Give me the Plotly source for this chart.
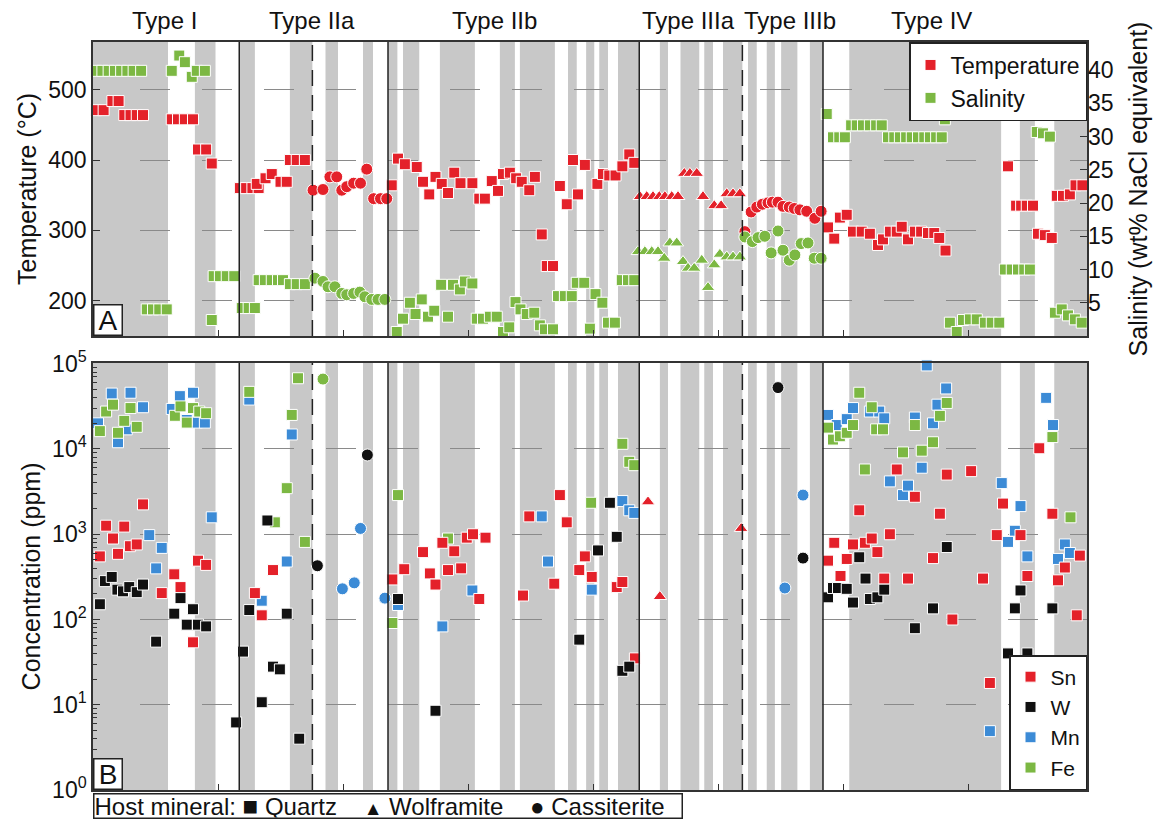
import plotly.graph_objects as go

RED = "#e4212a"; GREEN = "#7cb843"; BLUE = "#3c8bd6"; BLACK = "#111111"; GRAY = "#c8c8c8"
FONT = "Liberation Sans, Arial, sans-serif"

# ---------------- layout of samples along x (sample index) ----------------
band_start = [0.0, 16.3, 23.5, 31.5, 37.2, 43.2, 47.2, 49.6, 55.5, 65.1, 68.3, 76.0, 78.9, 81.0,
              84.0, 90.7, 94.0, 97.8, 100.8, 104.8, 107.8, 110.1, 114.7, 121.0, 148.3, 153.8]
band_end = [12.0, 19.6, 25.9, 35.1, 39.2, 44.8, 48.7, 52.2, 61.1, 67.5, 73.9, 77.4, 80.2, 82.4,
            87.4, 92.0, 97.0, 99.2, 103.9, 106.2, 109.1, 112.7, 116.8, 145.3, 150.7, 159.04]
type_bounds = [23.4, 47.2, 87.4, 116.8]
sub_bounds = [35.1, 103.9]
type_names = ["Type I", "Type IIa", "Type IIb", "Type IIIa", "Type IIIb", "Type IV"]
type_label_x = [11.5, 35.0, 64.3, 95.2, 111.5, 134.1]

# ---------------- Panel A: temperature (deg C) ----------------
temp_qtz_x = [0.5, 1.7, 3.1, 4.1, 5.0, 6.0, 7.0, 8.0, 12.6, 13.6, 14.7, 16.0, 16.8, 18.1, 19.0,
              23.5, 24.5, 25.5, 26.5, 26.2, 27.6, 28.6, 30.0, 31.0, 31.5, 32.6, 33.9,
              47.8, 48.8, 49.9, 51.8, 52.8, 53.8, 54.8, 55.8, 56.8, 57.8, 58.8, 60.7, 61.8, 62.7,
              63.8, 64.8, 65.6, 66.7, 67.7, 68.6, 69.8, 70.7, 71.8, 72.6, 73.6, 74.7, 75.8, 76.8,
              77.6, 78.7, 80.7, 81.6, 82.6, 83.6, 84.7, 85.8, 86.6,
              117.6, 118.6, 119.5, 120.6, 121.6, 123.0, 124.3, 125.6, 126.4, 127.5, 128.6, 129.4,
              130.4, 131.5, 132.5, 133.6, 134.6, 135.4, 136.4,
              146.4, 147.7, 148.5, 149.4, 150.4, 151.2, 152.3, 153.4, 154.2, 155.2, 156.3, 157.2, 158.3]
temp_qtz = [471, 471, 484, 484, 464, 464, 464, 464, 458, 458, 458, 458, 415, 415, 395,
            360, 360, 360, 360, 366, 374, 380, 369, 369, 400, 400, 400,
            364, 402, 394, 390, 369, 351, 376, 366, 353, 382, 367, 367, 345, 345,
            370, 356, 380, 382, 374, 369, 357, 376, 294, 249, 249, 363, 337, 400,
            351, 393, 366, 380, 378, 378, 391, 408, 396,
            304, 288, 318, 322, 298, 298, 295, 279, 287, 298, 298, 305,
            287, 298, 298, 296, 296, 289, 271,
            391, 335, 335, 335, 335, 295, 293, 289, 349, 349, 351, 364, 364]
temp_wlf_x = [87.5, 88.6, 89.6, 90.6, 91.5, 92.6, 93.6, 94.6, 95.5, 96.6, 97.6, 99.4, 100.5,
              101.4, 102.4, 103.5]
temp_wlf = [348, 348, 348, 348, 348, 348, 348, 381, 381, 381, 348, 335, 335, 352, 352, 352]
temp_cst_x = [35.2, 36.8, 37.9, 39.0, 39.8, 40.6, 41.7, 42.8, 43.8, 44.9, 46.0, 47.0,
              104.3, 105.3, 106.2, 107.1, 108.0, 108.7, 109.6, 110.4, 111.4, 112.2, 113.1, 114.2,
              115.5, 116.5]
temp_cst = [357, 358, 376, 376, 357, 362, 367, 367, 387, 345, 345, 345,
            298, 326, 333, 337, 339, 340, 340, 334, 333, 331, 329, 327, 317, 327]

# ---------------- Panel A: salinity (wt% NaCl equiv.) ----------------
sal_qtz_x = [0.5, 1.5, 2.5, 3.5, 4.5, 5.5, 6.5, 7.7, 8.6, 9.6, 10.6, 11.8,
             12.6, 13.8, 14.7, 15.8, 16.6, 17.9, 19.0, 19.3, 20.3, 21.4, 22.6,
             23.8, 24.9, 25.9, 26.5, 27.5, 28.6, 29.6, 30.4, 31.5, 32.6, 33.9,
             48.6, 49.6, 50.7, 51.6, 52.6, 53.6, 54.6, 55.7, 56.8, 57.6, 58.7, 59.5, 60.7,
             61.4, 62.4, 63.5, 64.6, 65.6, 66.6, 67.6, 68.4, 69.4, 70.6, 71.5, 72.3, 73.6,
             74.4, 75.5, 76.6, 77.4, 78.6, 79.5, 80.4, 81.5, 82.4, 83.5, 84.6, 85.6, 86.6,
             117.4, 118.4, 119.4, 120.3, 121.3, 122.2, 123.2, 124.3, 125.3, 126.2, 127.2, 128.2,
             129.1, 130.1, 131.0, 132.0, 133.0, 133.9, 134.9, 135.8, 136.3,
             137.1, 138.2, 139.2, 140.3, 141.4, 142.7, 143.8, 145.0,
             145.9, 147.0, 148.0, 149.0, 149.9, 151.0, 152.0, 153.1,
             153.9, 155.0, 156.0, 157.1, 158.2]
sal_qtz = [39.9, 39.9, 39.9, 39.9, 39.9, 39.9, 39.9, 39.9, 4.0, 4.0, 4.0, 4.0,
           39.9, 42.2, 41.2, 39.0, 39.9, 39.9, 2.4, 9.0, 9.0, 9.0, 9.0,
           4.2, 4.2, 4.2, 8.4, 8.4, 8.4, 8.4, 8.4, 7.8, 7.8, 7.8,
           0.6, 2.6, 5.0, 3.3, 5.5, 2.9, 3.8, 7.7, 2.9, 7.7, 7.0, 8.2, 7.9,
           2.6, 2.6, 2.9, 2.9, 0.6, 1.3, 5.1, 4.0, 3.3, 3.5, 1.6, 1.0, 1.0,
           6.0, 6.0, 6.0, 8.0, 8.0, 1.1, 6.3, 5.0, 2.0, 2.0, 8.4, 8.4, 8.4,
           33.4, 29.9, 29.9, 29.9, 31.7, 31.7, 31.7, 31.7, 31.7, 31.7, 29.9, 29.9,
           29.9, 29.9, 29.9, 29.9, 29.9, 29.9, 29.9, 29.9, 32.6,
           2.0, 0.6, 2.4, 2.5, 2.5, 2.0, 2.0, 2.0,
           10.0, 10.0, 10.0, 10.0, 10.0, 30.7, 30.5, 30.0,
           3.5, 4.0, 3.1, 2.5, 2.0]
sal_wlf_x = [87.2, 88.3, 89.4, 90.4, 91.4, 92.3, 93.4, 94.4, 95.2, 96.2, 97.4, 98.4, 99.4,
             100.3, 101.4, 102.4, 103.5]
sal_wlf = [12.7, 12.7, 12.7, 12.7, 11.7, 14.0, 14.0, 11.2, 10.2, 10.2, 11.4, 7.3, 10.7,
           12.3, 11.9, 11.9, 11.9]
sal_cst_x = [35.5, 36.8, 37.6, 38.7, 39.8, 40.6, 41.7, 42.7, 43.5, 44.6, 45.6, 46.7,
             104.3, 105.5, 106.4, 107.5, 108.5, 109.6, 110.4, 111.4, 112.3, 113.3, 114.4, 115.4, 116.5]
sal_cst = [8.7, 8.2, 7.4, 7.4, 6.4, 6.2, 6.4, 6.6, 5.9, 5.5, 5.5, 5.5,
           14.9, 14.2, 14.8, 15.0, 12.5, 15.8, 12.9, 11.4, 12.2, 13.9, 14.0, 11.7, 11.7]

# ---------------- Panel B: concentrations (ppm) ----------------
sn_qtz_x = [8.0, 2.1, 5.0, 3.2, 5.9, 7.0, 1.1, 4.0, 13.0, 14.0, 11.0, 16.8, 18.1, 16.0,
            28.8, 25.9, 27.0,
            47.9, 49.8, 52.8, 53.9, 54.8, 55.9, 56.8, 57.8, 58.9, 59.8, 60.8, 62.8, 61.8, 68.8,
            69.8, 74.7, 75.8, 73.8, 78.7, 77.8, 79.8, 83.8, 84.7, 86.7,
            122.6, 128.6, 131.5, 136.6, 140.5, 135.5, 118.6, 121.6, 123.5, 124.6, 127.5, 117.6,
            120.6, 125.5, 119.6, 126.6, 130.4, 134.4, 142.4, 137.5, 144.6, 145.6, 148.4, 149.5,
            151.4, 153.5, 155.5, 154.4, 157.9, 157.4, 143.5]
sn_qtz = [2240, 1260, 1230, 891, 724, 759, 550, 589, 339, 240, 204, 490, 437, 54,
          380, 204, 112,
          295, 389, 617, 347, 257, 794, 380, 631, 398, 912, 1000, 912, 174, 191,
          1620, 2880, 1380, 263, 550, 380, 316, 240, 275, 35,
          1910, 5750, 2750, 5010, 5500, 1740, 794, 759, 794, 891, 1000, 490,
          513, 617, 324, 302, 302, 525, 302, 100, 977, 2290, 977, 324,
          10200, 1740, 407, 288, 562, 112, 18]
sn_wlf_x = [88.8, 90.7, 103.7]
sn_wlf = [2400, 186, 1170]

w_qtz_x = [1.1, 1.9, 3.0, 3.9, 4.8, 5.8, 7.0, 8.0, 10.1, 13.0, 14.0, 15.0, 16.0, 16.8, 18.1,
           27.9, 25.0, 31.0, 24.0, 28.8, 29.9, 27.0, 22.9, 33.0,
           48.8, 54.8, 77.8, 80.8, 83.8, 82.7, 84.7, 85.8,
           117.6, 118.4, 119.2, 120.6, 121.6, 122.6, 123.6, 124.3, 125.5, 126.6, 131.5, 134.4,
           136.6, 146.4, 149.5, 147.5, 148.4, 153.5]
w_qtz = [151, 282, 316, 224, 214, 240, 209, 257, 55, 117, 178, 87, 132, 87, 83,
         1450, 129, 117, 42, 28, 26, 10.7, 6.2, 4.0,
         174, 8.5, 58, 646, 933, 2340, 25, 28,
         182, 234, 234, 229, 158, 537, 302, 174, 182, 224, 79, 135,
         708, 40, 40, 135, 219, 135]
w_cst_x = [43.9, 35.9, 109.6, 113.6]
w_cst = [8510, 427, 52500, 525]

mn_qtz_x = [3.0, 6.0, 8.0, 0.8, 4.0, 5.4, 13.9, 16.0, 12.6, 16.6, 17.9, 15.0, 9.0, 11.0, 10.1, 19.0,
            25.0, 31.8, 31.0, 27.0,
            48.8, 55.9, 60.7, 71.8, 72.8, 79.8, 84.7, 85.8, 86.6,
            117.6, 119.0, 120.6, 121.6, 124.3, 125.8, 126.6, 131.5, 134.4, 135.1, 136.5, 133.4,
            132.6, 127.5, 129.6, 130.4, 145.4, 148.4, 147.5, 146.4, 149.5, 152.5, 153.6, 155.5,
            154.4, 156.3, 143.5]
mn_qtz = [44700, 45700, 30900, 20000, 12000, 17000, 41700, 45700, 29500, 20400, 20400, 21900,
          977, 692, 398, 1580,
          38000, 14800, 479, 166,
          148, 83, 219, 1620, 479, 224, 2450, 1910, 1780,
          25100, 19100, 22400, 30200, 27500, 27500, 22900, 23400, 20000, 33100, 51300, 95500,
          6030, 4170, 2880, 3720, 3980, 2140, 1100, 813, 550, 39800, 19100, 759,
          513, 603, 4.9]
mn_cst_x = [42.8, 39.9, 41.8, 46.7, 113.6, 110.7]
mn_cst = [1170, 229, 269, 178, 2880, 234]

fe_qtz_x = [1.1, 2.1, 3.2, 4.0, 5.0, 6.0, 7.0, 13.1, 14.0, 15.0, 16.0, 17.0, 18.1,
            25.0, 32.8, 31.8, 31.0, 29.1, 33.9,
            48.8, 47.9, 56.8, 84.7, 85.8, 86.6, 79.7,
            122.6, 124.6, 117.6, 118.4, 119.5, 120.6, 121.6, 125.3, 126.4, 131.5, 135.5, 136.6,
            134.4, 129.6, 132.6, 123.5, 153.5, 156.4]
fe_qtz = [16200, 27500, 33100, 15500, 21400, 30200, 18200, 24500, 31600, 20400, 30200, 27500, 26300,
          46800, 67600, 25100, 3470, 1380, 813,
          2880, 91, 891, 11500, 7080, 6460, 2340,
          45700, 30900, 17800, 12900, 14100, 15500, 19100, 17000, 17000, 19100, 24500, 34700,
          12000, 9120, 9550, 5750, 13800, 1580]
fe_cst_x = [36.8]
fe_cst = [66100]

temp_ticks = [200, 300, 400, 500]
sal_ticks = [5, 10, 15, 20, 25, 30, 35, 40]
conc_ticks = [1, 10, 100, 1000, 10000, 100000]
conc_ticktext = ["10<sup>0</sup>", "10<sup>1</sup>", "10<sup>2</sup>", "10<sup>3</sup>",
                 "10<sup>4</sup>", "10<sup>5</sup>"]
x_ticks = [20, 40, 60, 80, 100, 120, 140]

# ---------------- figure ----------------
fig = go.Figure()


def pts(x, y, color, symbol, size, xa, ya, name=None, legend="legend", show=False, rank=1000):
    return go.Scatter(x=x, y=y, mode="markers", name=name, showlegend=show, legend=legend,
                      legendrank=rank, xaxis=xa, yaxis=ya, cliponaxis=False, hoverinfo="skip",
                      marker=dict(symbol=symbol, size=size, color=color,
                                  line=dict(color="white", width=1)))


SQ, TRI, CIR = 11, 12, 12
# panel A
fig.add_trace(pts(temp_qtz_x, temp_qtz, RED, "square", SQ, "x", "y", "Temperature", "legend", True, 1))
fig.add_trace(pts(temp_wlf_x, temp_wlf, RED, "triangle-up", TRI, "x", "y"))
fig.add_trace(pts(temp_cst_x, temp_cst, RED, "circle", CIR, "x", "y"))
fig.add_trace(pts(sal_qtz_x, sal_qtz, GREEN, "square", SQ, "x", "y2", "Salinity", "legend", True, 2))
fig.add_trace(pts(sal_wlf_x, sal_wlf, GREEN, "triangle-up", TRI, "x", "y2"))
fig.add_trace(pts(sal_cst_x, sal_cst, GREEN, "circle", CIR, "x", "y2"))
# panel B
fig.add_trace(pts(mn_qtz_x, mn_qtz, BLUE, "square", SQ, "x2", "y3", "Mn", "legend2", True, 3))
fig.add_trace(pts(mn_cst_x, mn_cst, BLUE, "circle", CIR, "x2", "y3"))
fig.add_trace(pts(fe_qtz_x, fe_qtz, GREEN, "square", SQ, "x2", "y3", "Fe", "legend2", True, 4))
fig.add_trace(pts(fe_cst_x, fe_cst, GREEN, "circle", CIR, "x2", "y3"))
fig.add_trace(pts(sn_qtz_x, sn_qtz, RED, "square", SQ, "x2", "y3", "Sn", "legend2", True, 1))
fig.add_trace(pts(sn_wlf_x, sn_wlf, RED, "triangle-up", TRI, "x2", "y3"))
fig.add_trace(pts(w_qtz_x, w_qtz, BLACK, "square", SQ, "x2", "y3", "W", "legend2", True, 2))
fig.add_trace(pts(w_cst_x, w_cst, BLACK, "circle", CIR, "x2", "y3"))

shapes = []
for xr, yr in (("x", "y domain"), ("x2", "y3 domain")):
    for a, b in zip(band_start, band_end):
        shapes.append(dict(type="rect", xref=xr, yref=yr, x0=a, x1=b, y0=0, y1=1,
                           fillcolor=GRAY, line=dict(width=0), layer="below"))
    for b in type_bounds:
        shapes.append(dict(type="line", xref=xr, yref=yr, x0=b, x1=b, y0=0, y1=1,
                           line=dict(color="#222222", width=1.5), layer="above"))
    for b in sub_bounds:
        shapes.append(dict(type="line", xref=xr, yref=yr, x0=b, x1=b, y0=0, y1=1,
                           line=dict(color="#222222", width=1.5, dash="16px,9px"), layer="above"))

annotations = []
for name, xp in zip(type_names, type_label_x):
    annotations.append(dict(text=name, x=xp, xref="x", y=1.029, yref="paper", showarrow=False,
                            xanchor="center", yanchor="middle", font=dict(size=24)))
for lab, yp in (("A", 0.607), ("B", 0.0)):
    annotations.append(dict(text=lab, x=0, xref="paper", y=yp, yref="paper", showarrow=False,
                            xanchor="left", yanchor="bottom", font=dict(size=28),
                            bgcolor="white", bordercolor="#222222", borderwidth=1.5,
                            borderpad=1, width=25, height=27))
sq = "<span style='font-size:26px'>\u25a0</span>"
tr = "<span style='font-size:19px'>\u25b2</span>"
ci = "<span style='font-size:24px'>\u25cf</span>"
gap = "\u00a0\u00a0\u00a0\u00a0"
host = ("Host mineral:\u00a0" + sq + "\u00a0Quartz" + gap + tr + "\u00a0Wolframite" + gap + ci +
        "\u00a0Cassiterite")
annotations.append(dict(text=host, x=0, xref="paper", y=-0.0214, yref="paper", showarrow=False,
                        xanchor="left", yanchor="middle", align="left", font=dict(size=24),
                        bgcolor="white", bordercolor="#222222", borderwidth=1.5, borderpad=0,
                        width=587, height=23))

gdash = "0px,47px" + ",30px,32px" * 17
axis_line = dict(showline=True, linecolor="#333333", linewidth=1.5, mirror=True, zeroline=False)

fig.update_layout(
    width=1161, height=820, autosize=False,
    margin=dict(l=93, r=74, t=42, b=30),
    paper_bgcolor="white", plot_bgcolor="white",
    font=dict(family=FONT, size=22, color="#111111"),
    showlegend=True,
    xaxis=dict(domain=[0, 1], anchor="y", range=[0, 159.04], tickvals=x_ticks, ticks="inside",
               ticklen=6, tickcolor="#333333", showticklabels=False, showgrid=False, **axis_line),
    yaxis=dict(domain=[0.607, 1], anchor="x", range=[149.4, 568.1], tickvals=temp_ticks,
               ticks="inside", ticklen=7, tickcolor="#333333", showgrid=True, gridcolor="#8a8a8a",
               gridwidth=1.2, griddash=gdash, tickfont=dict(size=23),
               title=dict(text="Temperature (\u00b0C)", font=dict(size=25), standoff=5),
               **axis_line),
    yaxis2=dict(overlaying="y", side="right", anchor="x", range=[0, 44.24], tickvals=sal_ticks,
                ticks="inside", ticklen=7, tickcolor="#333333", showgrid=False,
                tickfont=dict(size=23), zeroline=False, showline=False,
                title=dict(text="Salinity (wt% NaCl equivalent)", font=dict(size=25), standoff=16)),
    xaxis2=dict(domain=[0, 1], anchor="y3", matches="x", range=[0, 159.04], tickvals=x_ticks,
                ticks="inside", ticklen=6, tickcolor="#333333", showticklabels=False,
                showgrid=False, **axis_line),
    yaxis3=dict(domain=[0, 0.571], anchor="x2", type="log", range=[0, 5.01], tickvals=conc_ticks,
                ticktext=conc_ticktext, ticks="inside", ticklen=7, tickcolor="#333333",
                showgrid=True, gridcolor="#8a8a8a", gridwidth=1.2, griddash=gdash,
                tickfont=dict(size=23),
                minor=dict(tickvals=[m * 10 ** e for e in range(5) for m in range(2, 10)],
                           ticks="inside", ticklen=4, tickcolor="#333333", showgrid=False),
                title=dict(text="Concentration (ppm)", font=dict(size=25), standoff=4),
                **axis_line),
    legend=dict(x=1, xanchor="right", y=1, yanchor="top", xref="paper", yref="paper",
                bgcolor="white", bordercolor="#222222", borderwidth=1.5, font=dict(size=23),
                tracegroupgap=0, itemwidth=30),
    legend2=dict(x=1, xanchor="right", y=0, yanchor="bottom", xref="paper", yref="paper",
                 bgcolor="white", bordercolor="#222222", borderwidth=1.5, font=dict(size=21),
                 tracegroupgap=0, itemwidth=30),
    shapes=shapes,
    annotations=annotations,
)

fig.write_html("out.html", config={"displayModeBar": False, "responsive": False},
               post_script="document.body.style.margin='0';document.body.style.overflow='hidden';")
